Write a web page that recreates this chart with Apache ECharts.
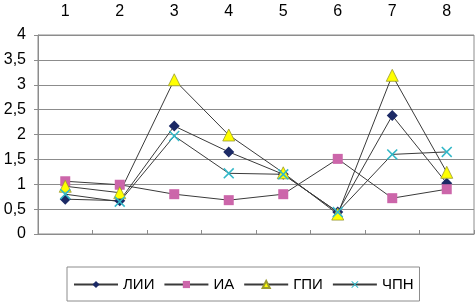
<!DOCTYPE html>
<html>
<head>
<meta charset="utf-8">
<script src="https://cdn.jsdelivr.net/npm/echarts@6/dist/echarts.min.js"></script>
<style>
  html, body { margin: 0; padding: 0; background: #fff; }
  #chart { width: 475px; height: 305px; }
</style>
</head>
<body>
<div id="chart"></div>
<script>
var categories = ['1', '2', '3', '4', '5', '6', '7', '8'];
var seriesNames = ['ЛИИ', 'ИА', 'ГПИ', 'ЧПН'];
var lii = [0.7, 0.67, 2.17, 1.65, 1.2, 0.44, 2.38, 1.02];
var ia = [1.06, 0.99, 0.8, 0.68, 0.8, 1.51, 0.72, 0.9];
var gpi = [0.96, 0.83, 3.1, 1.99, 1.23, 0.4, 3.19, 1.24];
var chpn = [0.8, 0.65, 1.97, 1.22, 1.2, 0.44, 1.6, 1.65];
var yTicks = { min: 0, max: 4, interval: 0.5 };

var font = 'Liberation Sans, Arial, sans-serif';
var crossPath = 'path://M0,1L1,0L5,4L9,0L10,1L6,5L10,9L9,10L5,6L1,10L0,9L4,5Z';

function mkSeries(name, data, symbol, size, color, border) {
  return {
    name: name,
    type: 'line',
    data: data,
    symbol: symbol,
    symbolSize: size,
    showAllSymbol: true,
    lineStyle: { color: '#3a3a3a', width: 1 },
    itemStyle: { color: color, borderColor: border || color, borderWidth: border ? 0.8 : 0 },
    emphasis: { disabled: true }
  };
}

var chart = echarts.init(document.getElementById('chart'), null, { renderer: 'canvas' });
chart.setOption({
  animation: false,
  textStyle: { fontFamily: font },
  grid: {
    left: 38, right: 1, top: 35, bottom: 71,
    show: true, borderColor: '#8c8c8c', borderWidth: 1
  },
  legend: {
    data: seriesNames,
    left: 67,
    top: 267,
    padding: [10, 6, 9, 6],
    itemGap: 9,
    itemWidth: 44,
    itemHeight: 9,
    borderColor: '#8c8c8c',
    borderWidth: 1,
    textStyle: { color: '#000', fontSize: 15, fontFamily: font }
  },
  xAxis: {
    type: 'category',
    position: 'top',
    data: categories,
    boundaryGap: true,
    axisLine: { lineStyle: { color: '#8c8c8c' } },
    axisTick: { show: true, length: 4, lineStyle: { color: '#8c8c8c' } },
    axisLabel: { color: '#000', fontSize: 16, margin: 15, fontFamily: font },
    splitLine: { show: false }
  },
  yAxis: {
    type: 'value',
    min: yTicks.min,
    max: yTicks.max,
    interval: yTicks.interval,
    axisLine: { show: true, lineStyle: { color: '#8c8c8c' } },
    axisTick: { show: true, length: 4, lineStyle: { color: '#8c8c8c' } },
    axisLabel: {
      color: '#000', fontSize: 16, margin: 12, fontFamily: font,
      formatter: function (v) { return String(v).replace('.', ','); }
    },
    splitLine: { lineStyle: { color: '#8c8c8c', width: 1 } }
  },
  series: [
    mkSeries('ЛИИ', lii, 'diamond', 11, '#1c2a66'),
    mkSeries('ИА', ia, 'rect', 10, '#cc66aa'),
    mkSeries('ГПИ', gpi, 'triangle', 12, '#ffff00', '#9a9a30'),
    mkSeries('ЧПН', chpn, crossPath, 11, '#33b8c8')
  ]
});
</script>
</body>
</html>
